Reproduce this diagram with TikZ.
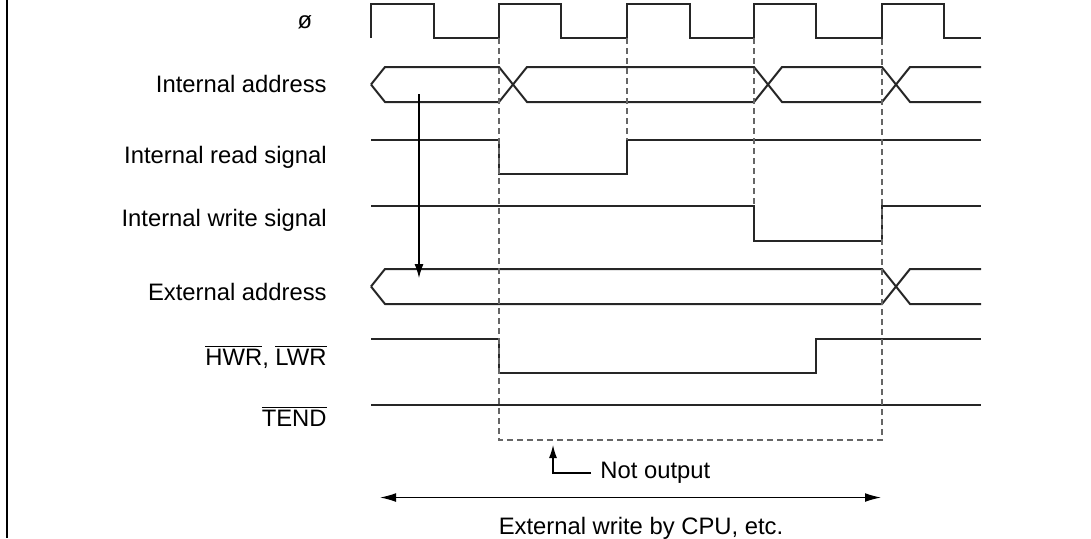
\documentclass[tikz,border=0pt]{standalone}
\usepackage{fontspec}
\setmainfont{Liberation Sans}
\usetikzlibrary{positioning, arrows.meta}
\newcommand{\ovl}[1]{$\overline{\mbox{#1}}$}

\begin{document}
\begin{tikzpicture}[x=0.5pt, y=-0.5pt,
                wave/.style={line width=1pt, draw=black!85},
                guide/.style={line width=0.6pt, draw=black!60, dash pattern=on 3pt off 2pt},
                sig/.style={anchor=east, font=\fontsize{11.9}{14}\selectfont, inner sep=0pt},
                note/.style={font=\fontsize{11.9}{14}\selectfont, inner sep=0pt}
            ]
            \useasboundingbox (0,0) rectangle (1091,538);

            % Frame edge
            \draw[line width=1pt] (7,0) -- (7,538);

            % Signal names
            \node[sig, anchor=center] (phi) at (305,22) {ø};
            \node[sig] (iaddr) at (327,84) {Internal address};
            \node[sig] (rd) at (327,157) {Internal read signal};
            \node[sig] (wr) at (327,220) {Internal write signal};
            \node[sig] (eaddr) at (327,292) {External address};
            \node[sig] (hwr) at (327,357) {\ovl{HWR}, \ovl{LWR}};
            \node[sig] (tend) at (327,416) {\ovl{TEND}};

            % Clock
            \draw[wave] (371,38) -- (371,4) -- (434,4) -- (434,38) -- (499,38)
                -- (499,4) -- (561,4) -- (561,38) -- (627,38) -- (627,4)
                -- (690,4) -- (690,38) -- (754,38) -- (754,4) -- (816,4)
                -- (816,38) -- (882,38) -- (882,4) -- (944,4) -- (944,38)
                -- (981,38);

            % Internal address
            \draw[wave] (371,84.5) -- (385,67) -- (499,67) -- (527,102) -- (754,102)
                -- (782,67) -- (882,67) -- (910,102) -- (981,102);
            \draw[wave] (371,84.5) -- (385,102) -- (499,102) -- (527,67) -- (754,67)
                -- (782,102) -- (882,102) -- (910,67) -- (981,67);

            % Internal read / write
            \draw[wave] (371,140) -- (499,140) -- (499,174) -- (627,174)
                -- (627,140) -- (981,140);
            \draw[wave] (371,206) -- (754,206) -- (754,241) -- (882,241)
                -- (882,206) -- (981,206);

            % External address
            \draw[wave] (371,286.5) -- (385,269) -- (882,269) -- (910,304) -- (981,304);
            \draw[wave] (371,286.5) -- (385,304) -- (882,304) -- (910,269) -- (981,269);

            % HWR, LWR and TEND
            \draw[wave] (371,339) -- (499,339) -- (499,373) -- (816,373)
                -- (816,339) -- (981,339);
            \draw[wave] (371,405) -- (981,405);

            % Guide lines
            \draw[guide] (499,38) -- (499,440) -- (882,440) -- (882,38);
            \draw[guide] (627,38) -- (627,140);
            \draw[guide] (754,38) -- (754,206);

            % Address propagation
            \coordinate (iapt) at (419,94);
            \coordinate (eapt) at (419,278);
            \draw[-{Latex[length=7pt, width=4.5pt]}, line width=0.6pt] (iapt) -- (eapt);

            % Not output
            \node[note, anchor=west] (nout) at (600,473) {Not output};
            \coordinate (boxpt) at (553,445);
            \draw[-{Latex[length=6.5pt, width=4pt]}, line width=0.6pt]
                ([xshift=-4.5pt]nout.west) -| (boxpt);

            % Write span
            \coordinate (wsl) at (380,497.5);
            \coordinate (wsr) at (881,497.5);
            \draw[{Latex[length=8pt, width=4.4pt]}-{Latex[length=8pt, width=4.4pt]},
                  line width=0.6pt] (wsl) -- (wsr);
            \node[note] (wspan) at (641,528) {External write by CPU, etc.};

            \end{tikzpicture}
\end{document}
